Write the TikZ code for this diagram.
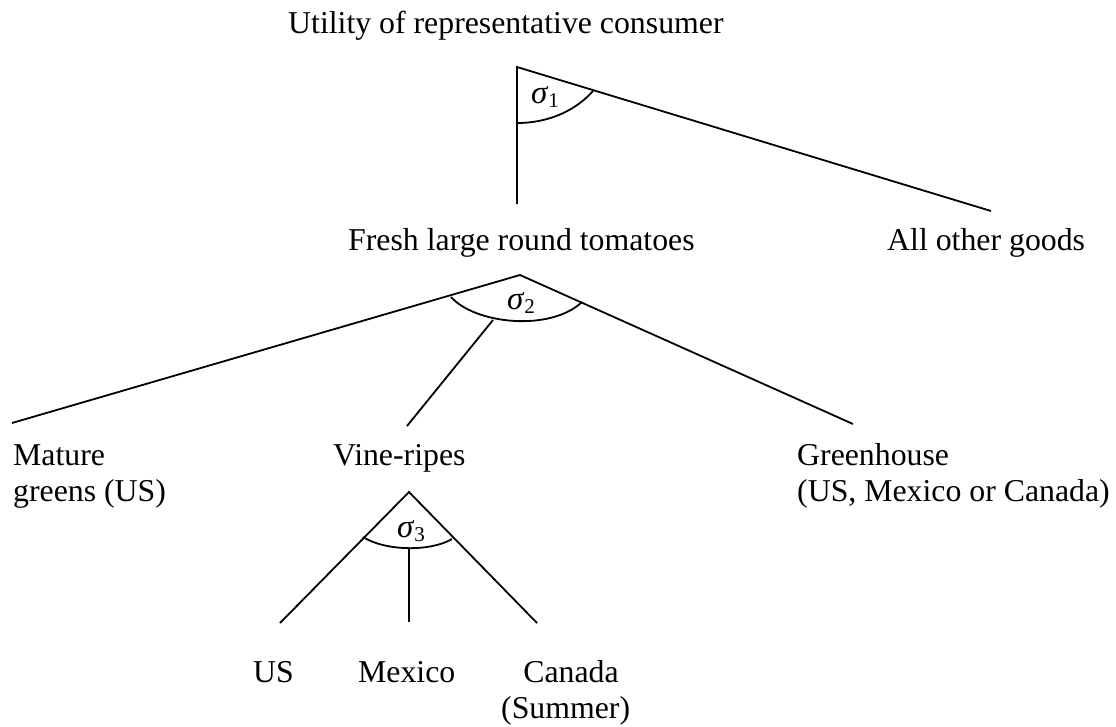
\documentclass[tikz,border=0pt]{standalone}
\usepackage{fontspec}
\setmainfont{Liberation Serif}
\newcommand{\sigmalbl}[1]{\textit{σ}\raisebox{-0.3ex}{\fontsize{21}{24}\selectfont #1}}
\begin{document}
\begin{tikzpicture}[x=1pt,y=-1pt,
  branch/.style={line width=1.8pt},
  lbl/.style={anchor=base west,inner sep=0pt,font=\fontsize{31.8}{36.6}\selectfont,align=left},
  sig/.style={inner sep=0pt,font=\fontsize{33}{38}\selectfont}]
\useasboundingbox (0,0) rectangle (1116,726);
% labels (multi-line nodes: base is the last line)
\node[lbl] (util) at (288,33) {Utility of representative consumer};
\node[lbl] (fresh) at (348,250) {Fresh large round tomatoes};
\node[lbl] (other) at (887,250) {All other goods};
\node[lbl] (mature) at (13,501.6) {Mature\\greens (US)};
\node[lbl] (vine) at (333,465) {Vine-ripes};
\node[lbl] (green) at (797,501.6) {Greenhouse\\(US, Mexico or Canada)};
\node[lbl] (us) at (253,682) {US};
\node[lbl] (mex) at (358,682) {Mexico};
\node[lbl,align=center] (can) at (501,718.6) {\hphantom{(}Canada\\(Summer)};
% coordinates
\coordinate (a1) at (517,67);
\coordinate (a1v) at (517,204);
\coordinate (a1r) at (991,211);
\coordinate (a2) at (520,275);
\coordinate (a2l) at (12,423);
\coordinate (a2r) at (853,424);
\coordinate (a2ms) at (493,320);
\coordinate (a2m) at (407,426);
\coordinate (a3) at (409,492);
\coordinate (a3l) at (280,623);
\coordinate (a3r) at (537,623);
\coordinate (a3ms) at (409,548);
\coordinate (a3m) at (409,622);
% branches
\draw[branch] (a1v) -- (a1) -- (a1r);
\draw[branch] (a2l) -- (a2) -- (a2r);
\draw[branch] (a2ms) -- (a2m);
\draw[branch] (a3l) -- (a3) -- (a3r);
\draw[branch] (a3ms) -- (a3m);
% arcs
\draw[branch] (517,123) .. controls (552,123) and (578,108) .. (593,91);
\draw[branch] (451,297) .. controls (475,324) and (550,332) .. (582,302);
\draw[branch] (363,537) .. controls (385,551) and (430,552) .. (452,539);
% sigma labels
\node[sig] (s1) at (545,97) {\sigmalbl{1}};
\node[sig] (s2) at (521,303) {\sigmalbl{2}};
\node[sig] (s3) at (411,531) {\sigmalbl{3}};
\end{tikzpicture}
\end{document}
